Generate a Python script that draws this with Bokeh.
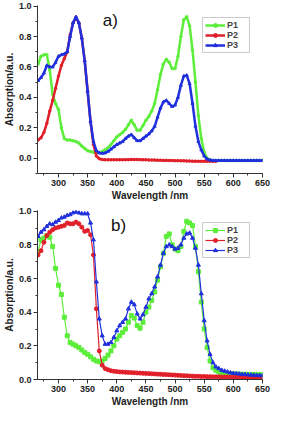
from bokeh.plotting import figure
from bokeh.layouts import column
from bokeh.models import Range1d, SingleIntervalTicker, Label, PrintfTickFormatter
from bokeh.embed import file_html
from bokeh.resources import INLINE

# ---------------- data: panel a) ----------------
wl_a = list(range(265, 655, 5))
p1_a = [0.62, 0.67, 0.68, 0.68, 0.58, 0.42, 0.36, 0.32, 0.20, 0.13,
        0.12, 0.12, 0.115, 0.11, 0.10, 0.08, 0.065, 0.05, 0.045, 0.04,
        0.037, 0.038, 0.045, 0.055, 0.07, 0.09, 0.115, 0.14, 0.155, 0.17,
        0.19, 0.22, 0.25, 0.22, 0.185, 0.185, 0.215, 0.25, 0.275, 0.31,
        0.36, 0.45, 0.55, 0.62, 0.65, 0.63, 0.59, 0.59, 0.67, 0.80,
        0.91, 0.93, 0.87, 0.71, 0.50, 0.28, 0.13, 0.04, 0.0, -0.01,
        -0.015, -0.015, -0.015, -0.015, -0.015, -0.015, -0.015, -0.015, -0.015, -0.015,
        -0.015, -0.015, -0.015, -0.015, -0.015, -0.015, -0.015, -0.015]
p2_a = [0.12, 0.135, 0.17, 0.23, 0.31, 0.38, 0.46, 0.54, 0.61, 0.655,
        0.70, 0.81, 0.89, 0.925, 0.89, 0.79, 0.64, 0.44, 0.24, 0.09,
        0.015, -0.003, -0.008, -0.01, -0.01, -0.01, -0.01, -0.01, -0.01, -0.01,
        -0.009, -0.009, -0.008, -0.008, -0.008, -0.009, -0.01, -0.01, -0.011, -0.012,
        -0.012, -0.013, -0.013, -0.014, -0.014, -0.015, -0.015, -0.016, -0.016, -0.017,
        -0.017, -0.018, -0.018, -0.019, -0.019, -0.02, -0.02, -0.02, -0.02, -0.02,
        -0.02, -0.02]
p3_a = [0.51, 0.53, 0.56, 0.61, 0.60, 0.60, 0.63, 0.67, 0.68, 0.685,
        0.70, 0.80, 0.89, 0.93, 0.89, 0.79, 0.64, 0.44, 0.24, 0.11,
        0.05, 0.035, 0.033, 0.035, 0.045, 0.06, 0.075, 0.09, 0.10, 0.11,
        0.13, 0.145, 0.155, 0.135, 0.115, 0.115, 0.13, 0.145, 0.16, 0.18,
        0.21, 0.27, 0.33, 0.37, 0.38, 0.36, 0.34, 0.35, 0.40, 0.48,
        0.54, 0.545, 0.49, 0.36, 0.21, 0.11, 0.055, 0.015, -0.005, -0.012,
        -0.015, -0.015, -0.015, -0.015, -0.015, -0.015, -0.015, -0.015, -0.015, -0.015,
        -0.015, -0.015, -0.015, -0.015, -0.015, -0.015, -0.015, -0.015]

# ---------------- data: panel b) ----------------
wl_b = list(range(265, 655, 5))
p1_b = [0.76, 0.83, 0.84, 0.855, 0.845, 0.79, 0.66, 0.56, 0.505, 0.37,
        0.26, 0.22, 0.21, 0.20, 0.19, 0.175, 0.16, 0.15, 0.135, 0.12,
        0.11, 0.105, 0.11, 0.125, 0.145, 0.17, 0.20, 0.24, 0.26, 0.28,
        0.30, 0.34, 0.38, 0.365, 0.32, 0.305, 0.34, 0.40, 0.43, 0.47,
        0.52, 0.59, 0.67, 0.75, 0.85, 0.865, 0.80, 0.775, 0.765, 0.79,
        0.88, 0.94, 0.93, 0.915, 0.79, 0.64, 0.46, 0.30, 0.19, 0.11,
        0.07, 0.055, 0.045, 0.04, 0.037, 0.035, 0.034, 0.033, 0.032, 0.032,
        0.031, 0.031, 0.031, 0.030, 0.030, 0.030, 0.030, 0.030]
p2_b = [0.74, 0.765, 0.815, 0.855, 0.875, 0.89, 0.90, 0.905, 0.91, 0.915,
        0.93, 0.925, 0.925, 0.935, 0.925, 0.905, 0.88, 0.885, 0.86, 0.74,
        0.42, 0.17, 0.085, 0.065, 0.058, 0.052, 0.049, 0.047, 0.045, 0.044,
        0.043, 0.042, 0.041, 0.040, 0.039, 0.038, 0.037, 0.036, 0.035, 0.034,
        0.033, 0.032, 0.031, 0.030, 0.029, 0.028, 0.027, 0.026, 0.025, 0.024,
        0.023, 0.022, 0.021, 0.020, 0.019, 0.019, 0.018, 0.018, 0.017, 0.017,
        0.016, 0.016, 0.016, 0.015, 0.015, 0.015, 0.014, 0.014, 0.014, 0.013,
        0.013, 0.013, 0.013, 0.012, 0.012, 0.012, 0.012, 0.012]
p3_b = [0.85, 0.875, 0.89, 0.91, 0.925, 0.92, 0.935, 0.945, 0.96, 0.965,
        0.975, 0.98, 0.99, 0.995, 0.99, 0.985, 0.985, 0.985, 0.93, 0.83,
        0.58, 0.36, 0.26, 0.21, 0.21, 0.22, 0.25, 0.29, 0.32, 0.34,
        0.36, 0.42, 0.46, 0.445, 0.39, 0.36, 0.385, 0.43, 0.48, 0.51,
        0.55, 0.61, 0.68, 0.75, 0.79, 0.80, 0.79, 0.775, 0.78, 0.80,
        0.84, 0.865, 0.87, 0.84, 0.78, 0.68, 0.51, 0.35, 0.23, 0.15,
        0.10, 0.075, 0.065, 0.055, 0.05, 0.045, 0.04, 0.037, 0.035, 0.033,
        0.031, 0.030, 0.028, 0.027, 0.026, 0.025, 0.024, 0.023]

labels = ["P1", "P2", "P3"]
colors = ["#5CEE3A", "#E0202A", "#2030DD"]
FONT = "Liberation Sans"


def make_fig(height, y_start, top_border):
    p = figure(width=272, height=height, output_backend="svg", toolbar_location=None,
               x_range=Range1d(264, 650), y_range=Range1d(y_start, 1.004),
               min_border_left=2, min_border_right=10, min_border_top=top_border,
               min_border_bottom=2)
    p.outline_line_color = None
    p.xgrid.visible = False
    p.ygrid.visible = False
    p.xaxis.ticker = SingleIntervalTicker(interval=50, num_minor_ticks=2)
    p.yaxis.ticker = SingleIntervalTicker(interval=0.2, num_minor_ticks=2)
    p.yaxis.formatter = PrintfTickFormatter(format="%.1f")
    p.xaxis.axis_label = "Wavelength /nm"
    p.yaxis.axis_label = "Absorption/a.u."
    for ax in (p.xaxis[0], p.yaxis[0]):
        ax.axis_line_color = "#333333"
        ax.major_tick_line_color = "#333333"
        ax.minor_tick_line_color = "#333333"
        ax.major_tick_in = 0
        ax.major_tick_out = 4
        ax.minor_tick_in = 0
        ax.minor_tick_out = 2
        ax.major_label_text_font = FONT
        ax.major_label_text_font_style = "bold"
        ax.major_label_text_font_size = "9px"
        ax.major_label_text_color = "#222222"
        ax.axis_label_text_font = FONT
        ax.axis_label_text_font_style = "bold"
        ax.axis_label_text_font_size = "10px"
        ax.axis_label_text_color = "#222222"
        ax.axis_label_standoff = 1
        ax.major_label_standoff = 2
    return p


def style_legend(p):
    lg = p.legend[0]
    lg.location = "top_right"
    lg.border_line_color = "#999999"
    lg.border_line_width = 1
    lg.background_fill_color = "white"
    lg.label_text_font = FONT
    lg.label_text_font_style = "bold"
    lg.label_text_font_size = "9px"
    lg.glyph_height = 10
    lg.glyph_width = 20
    lg.label_height = 10
    lg.label_standoff = 2
    lg.spacing = 0
    lg.padding = 2
    lg.margin = 12


# panel a)
pa = make_fig(203, -0.1, 5)
series_a = [(wl_a, p1_a, "circle", 2.5), (wl_a[:len(p2_a)], p2_a, "circle", 2.5),
            (wl_a, p3_a, "triangle", 3)]
for (xs, ys, mk, sz), lab, c in zip(series_a, labels, colors):
    pa.line(xs, ys, line_color=c, line_width=2.5, legend_label=lab)
    pa.scatter(xs, ys, marker=mk, size=sz, fill_color=c, line_color=c, legend_label=lab)
style_legend(pa)
pa.add_layout(Label(x=376, y=0.84, text="a)", text_font=FONT, text_font_size="17px",
                    text_color="#111111"))

# panel b)
pb = make_fig(206, 0.0, 7)
series_b = [(wl_b, p1_b, "square"), (wl_b, p2_b, "circle"), (wl_b, p3_b, "triangle")]
for (xs, ys, mk), lab, c in zip(series_b, labels, colors):
    pb.line(xs, ys, line_color=c, line_width=1.2, legend_label=lab)
    pb.scatter(xs, ys, marker=mk, size=4, fill_color=c, line_color=c, legend_label=lab)
style_legend(pb)
pb.add_layout(Label(x=390, y=0.86, text="b)", text_font=FONT, text_font_size="17px",
                    text_color="#111111"))

layout = column(pa, pb, spacing=0)
open("out.html", "w").write(file_html(layout, INLINE))
